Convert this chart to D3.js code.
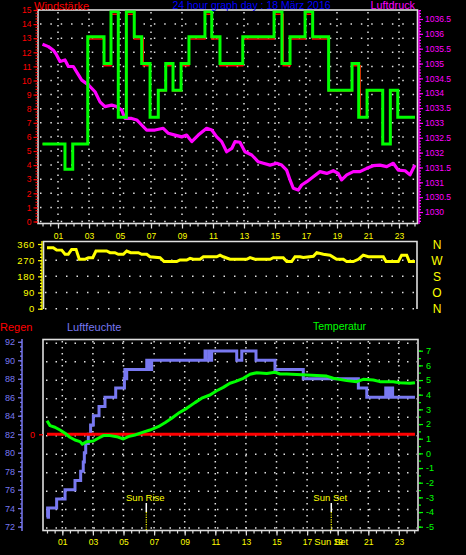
<!DOCTYPE html>
<html><head><meta charset="utf-8">
<script src="https://cdn.jsdelivr.net/npm/d3@7"></script>
<style>html,body{margin:0;padding:0;background:#000;}svg{display:block}</style>
</head><body>
<svg id="c" width="466" height="555"></svg>
<script>
// ---------------- DATA ----------------
const hourTicks = [1,3,5,7,9,11,13,15,17,19,21,23];
const hourLabels = ["01","03","05","07","09","11","13","15","17","19","21","23"];
const windTicks = [0,1,2,3,4,5,6,7,8,9,10,11,12,13,14,15];
const pressTicks = [1030,1030.5,1031,1031.5,1032,1032.5,1033,1033.5,1034,1034.5,1035,1035.5,1036,1036.5];
const dirTicks = [0,90,180,270,360];
const dirLetters = ["N","O","S","W","N"];
const humTicks = [72,74,76,78,80,82,84,86,88,90,92];
const tempTicks = [-5,-4,-3,-2,-1,0,1,2,3,4,5,6,7];
const rainTicks = [0];

// wind gust (green step)
const windHours = [0,1.45,1.95,2.92,3.97,4.42,4.89,5.41,5.92,6.4,6.94,7.47,7.95,8.42,8.94,9.45,10.48,10.92,11.45,12.92,14.94,15.45,15.97,16.94,17.43,18.46,19.97,20.4,20.94,21.95,22.44,22.92,24.03];
const windGust = [5.5,3.7,5.5,13.1,11.2,14.9,7.4,14.9,13.1,11.2,7.4,9.3,11.2,9.3,11.2,13.1,14.9,13.1,11.2,13.1,14.9,11.2,13.1,14.9,13.1,9.3,11.2,7.4,9.3,5.5,9.3,7.4,7.4];
// wind mean (red step)
const windMeanHours = [0,1.45,1.95,2.92,3.97,4.42,4.89,5.41,5.92,6.5,6.94,7.47,7.95,8.42,8.94,9.45,10.48,10.92,11.45,12.92,14.94,15.53,15.97,16.94,17.43,18.46,19.97,20.5,20.94,21.95,22.44,22.92,24.03];
const windMean = [5.5,3.7,5.5,12.95,11.05,14.7,7.4,14.7,12.95,11.05,7.4,9.25,11.05,9.25,11.05,12.95,14.7,12.95,11.05,12.95,14.7,11.05,12.95,14.7,12.95,9.25,11.05,7.4,9.25,5.5,9.25,7.4,7.4];
// pressure
const pressHours = [0,0.38,0.70,0.91,1.13,1.45,1.67,1.99,2.2,2.53,2.96,3.39,3.71,4.03,4.46,4.78,5.11,5.32,5.75,6.08,6.4,6.72,7.26,7.79,8.12,8.55,8.98,9.3,9.63,10.05,10.59,10.92,11.24,11.56,11.88,12.21,12.42,12.74,13.06,13.5,13.92,14.25,14.68,15.11,15.43,15.75,15.97,16.18,16.5,16.72,17.05,17.47,17.9,18.34,18.76,19.08,19.3,19.63,20.05,20.48,20.92,21.34,21.77,22.21,22.63,22.95,23.39,23.71,24.03];
const pressValues = [1035.65,1035.57,1035.45,1035.29,1035.07,1035.12,1034.9,1034.9,1034.72,1034.44,1034.28,1034.05,1033.71,1033.55,1033.6,1033.55,1033.43,1033.15,1033.15,1033.1,1032.93,1032.76,1032.76,1032.82,1032.65,1032.59,1032.53,1032.59,1032.37,1032.59,1032.82,1032.76,1032.53,1032.37,1032.03,1032.14,1032.37,1032.35,1032.03,1031.92,1031.69,1031.64,1031.58,1031.64,1031.58,1031.41,1031.08,1030.8,1030.74,1030.91,1031.02,1031.19,1031.36,1031.3,1031.39,1031.3,1031.08,1031.25,1031.36,1031.36,1031.47,1031.56,1031.58,1031.53,1031.64,1031.41,1031.39,1031.25,1031.58];
// wind direction
const dirHours = [0,0.41,0.63,0.96,1.18,1.39,1.61,1.9,2.11,2.48,2.7,2.99,3.2,3.9,4.12,4.44,4.66,4.99,5.21,5.47,5.97,6.19,6.52,6.73,7.39,7.65,8.48,8.69,9.13,9.35,9.56,10.0,10.22,11.09,11.31,11.52,11.96,13.05,13.27,13.59,14.58,14.79,15.44,15.67,15.99,16.21,16.54,16.75,17.41,17.63,18.06,18.5,18.93,19.37,19.59,20.02,20.35,20.67,21.0,21.98,22.16,22.96,23.18,23.51,23.68,24.05];
const dirValues = [339,339,327,326,303,303,330,330,275,275,284,284,321,321,312,312,303,303,321,312,312,303,303,289,284,262,262,271,271,280,275,275,289,289,298,289,275,275,284,275,275,284,284,262,262,289,289,285,292,312,303,298,275,275,262,262,275,298,289,289,262,262,298,298,262,262];
// humidity (step)
const humHours = [0,0.04,0.07,0.1,0.63,1.18,1.83,2.2,2.37,2.44,2.53,2.7,2.85,3.03,3.4,3.79,4.49,5.06,5.09,5.12,5.15,5.18,5.21,6.52,6.56,6.6,6.64,6.68,6.72,6.76,6.8,6.84,10.33,10.4,10.6,10.64,10.68,10.72,10.76,12.4,12.73,13.66,14.9,16.75,20.35,20.9,22.14,22.19,22.24,22.29,22.34,22.39,22.44,22.49,22.54,22.59,22.63,24.05];
const humValues = [73,74,73,74,75,76,77,78,79,80,81,82,83,84,85,86,87,88,89,88,89,88,89,90,89,90,89,90,89,90,89,90,91,90,91,90,91,90,91,90,91,90,89,88,87,86,87,86,87,86,87,86,87,86,87,86,86,86];
// temperature
const tempHours = [0,0.2,0.52,0.85,1.18,1.5,1.83,2.16,2.31,2.59,3.03,3.35,3.68,4.12,4.56,4.99,5.31,5.75,6.19,6.73,7.27,7.71,8.15,8.58,9.13,9.67,10.11,10.65,11.09,11.52,11.96,12.29,12.83,13.27,13.71,14.36,14.9,15.23,15.67,16.97,18.28,18.71,19.59,20.24,20.67,21.33,21.76,22.63,23.07,23.73,24.05];
const tempValues = [2.23,1.89,1.78,1.59,1.37,1.1,0.91,0.8,0.62,0.8,0.84,1.03,1.21,1.21,1.14,0.98,1.14,1.25,1.41,1.59,1.82,2.09,2.39,2.73,3.07,3.46,3.76,3.98,4.27,4.5,4.78,4.89,5.12,5.39,5.5,5.45,5.53,5.41,5.41,5.34,5.27,5.12,4.96,4.89,5.05,5.0,4.89,4.89,4.82,4.78,4.82];
// rain
const rainHours = [0,24.05];
const rainValues = [0,0];
// sun
const sunRise = 6.49, sunSet = 18.58;

// ---------------- SETUP ----------------
const FONT = "'Liberation Sans', Arial, sans-serif";
const svg = d3.select("#c");
svg.append("rect").attr("width",466).attr("height",555).attr("fill","#000");

const xTop = d3.scaleLinear().domain([0,24]).range([42.5,414.5]);
const xBot = d3.scaleLinear().domain([0,24]).range([47,414.2]);
const yWind = d3.scaleLinear().domain([0,15]).range([221.5,10]);
const yPress = d3.scaleLinear().domain([1030,1036.5]).range([212,19]);
const yDir = d3.scaleLinear().domain([0,360]).range([308.7,244]);
const yHum = d3.scaleLinear().domain([72,92]).range([526.6,341.8]);
const yTemp = d3.scaleLinear().domain([-5,7]).range([526.7,350.7]);
const yRain = d3.scaleLinear().domain([0,10]).range([434.3,340]);

const GRID = "#e0e0e0", FRAME = "#dedede";
const RED="#ff0000", MAG="#ff00ff", YEL="#ffff00", LAV="#7878f0", GRN="#00ff00", BLUE="#0000ff";

const defs = svg.append("defs");
function clip(id,x,y,w,h){ defs.append("clipPath").attr("id",id).append("rect").attr("x",x).attr("y",y).attr("width",w).attr("height",h); }
clip("cTop",38.5,10.5,378.5,212.5);
clip("cMid",43.5,242,373,67);
clip("cBot",43.5,340,374,190);

function line(g,x1,y1,x2,y2,color,w,dash){
  const l=g.append("line").attr("x1",x1).attr("y1",y1).attr("x2",x2).attr("y2",y2)
   .attr("stroke",color).attr("stroke-width",w);
  if(dash) l.attr("stroke-dasharray",dash);
  return l;
}
function text(x,y,s,color,size,anchor){
  return svg.append("text").attr("x",x).attr("y",y).text(s).attr("fill",color)
   .attr("font-size",size).attr("font-family",FONT).attr("text-anchor",anchor||"start");
}
function styleAxis(g,color,size){
  g.select(".domain").remove();
  g.selectAll(".tick line").attr("stroke",color).attr("stroke-width",1.2);
  g.selectAll(".tick text").attr("fill",color).attr("font-size",size).attr("font-family",FONT);
}

// ---------------- GRIDS ----------------
const grid = svg.append("g");
windTicks.filter(v=>v<15).forEach(v=>line(grid,40,yWind(v),416,yWind(v),GRID,1.5,"1.5,8.85"));
hourTicks.forEach(h=>line(grid,xTop(h),12,xTop(h),222,GRID,1.5,"1.5,5"));
dirTicks.filter(v=>v<360).forEach(v=>line(grid,45,yDir(v),416,yDir(v),GRID,1.5,"1.5,9"));
humTicks.forEach(v=>line(grid,46,yHum(v)+1.5,417,yHum(v)+1.5,GRID,1.5,"1.5,8"));
hourTicks.forEach(h=>line(grid,xBot(h),341,xBot(h),529,GRID,1.5,"1.5,4.5"));

// ---------------- FRAMES ----------------
svg.append("rect").attr("x",38).attr("y",10).attr("width",379.5).attr("height",213.5)
  .attr("fill","none").attr("stroke",FRAME).attr("stroke-width",1.6);
svg.append("path").attr("d","M43.5,309V241.5H417V309").attr("fill","none").attr("stroke",FRAME).attr("stroke-width",1.6);
svg.append("rect").attr("x",43).attr("y",339.5).attr("width",375).attr("height",191)
  .attr("fill","none").attr("stroke",FRAME).attr("stroke-width",1.6);

// ---------------- TOP PANEL DATA ----------------
const gTop = svg.append("g").attr("clip-path","url(#cTop)");
const pressLine = d3.line().x((d,i)=>xTop(pressHours[i])).y(d=>yPress(d));
gTop.append("path").attr("d",pressLine(pressValues)).attr("fill","none")
  .attr("stroke",MAG).attr("stroke-width",3.2).attr("stroke-linejoin","round");
const meanLine = d3.line().curve(d3.curveStepAfter).x((d,i)=>xTop(windMeanHours[i])).y(d=>yWind(d));
gTop.append("path").attr("d",meanLine(windMean)).attr("fill","none").attr("stroke",RED).attr("stroke-width",1.5);
const gustLine = d3.line().curve(d3.curveStepAfter).x((d,i)=>xTop(windHours[i])).y(d=>yWind(d));
gTop.append("path").attr("d",gustLine(windGust)).attr("fill","none").attr("stroke",GRN).attr("stroke-width",3);

// ---------------- MIDDLE PANEL DATA ----------------
const gMid = svg.append("g").attr("clip-path","url(#cMid)");
const dirLine = d3.line().x((d,i)=>xBot(dirHours[i])).y(d=>yDir(d));
gMid.append("path").attr("d",dirLine(dirValues)).attr("fill","none").attr("stroke",YEL).attr("stroke-width",3);

// ---------------- BOTTOM PANEL DATA ----------------
const gBot = svg.append("g").attr("clip-path","url(#cBot)");
[sunRise,sunSet].forEach(t=>{
  line(gBot,xBot(t),503,xBot(t),512,"#ffffff",1.5);
  line(gBot,xBot(t),512,xBot(t),530,YEL,1.2,"1.2,1.2");
});
const humLine = d3.line().curve(d3.curveStepAfter).x((d,i)=>xBot(humHours[i])).y(d=>yHum(d));
gBot.append("path").attr("d",humLine(humValues)).attr("fill","none").attr("stroke",LAV).attr("stroke-width",3);
const rainLine = d3.line().x((d,i)=>xBot(rainHours[i])).y(d=>yRain(d));
gBot.append("path").attr("d",rainLine(rainValues)).attr("fill","none").attr("stroke",RED).attr("stroke-width",3);
const tempLine = d3.line().x((d,i)=>xBot(tempHours[i])).y(d=>yTemp(d));
gBot.append("path").attr("d",tempLine(tempValues)).attr("fill","none").attr("stroke",GRN).attr("stroke-width",3).attr("stroke-linejoin","round");

// ---------------- AXES ----------------
let g = svg.append("g").attr("transform","translate(37.5,0)")
  .call(d3.axisLeft(yWind).tickValues(d3.range(0,15.01,0.2)).tickSize(2).tickFormat(""));
styleAxis(g,RED,8);
g = svg.append("g").attr("transform","translate(37.5,0)")
  .call(d3.axisLeft(yWind).tickValues(windTicks).tickSize(4).tickPadding(2).tickFormat(d=>String(d)));
styleAxis(g,RED,8.5);

line(svg,419,10,419,224,MAG,1.3);
g = svg.append("g").attr("transform","translate(419,0)")
  .call(d3.axisRight(yPress).tickValues(d3.range(1029.7,1036.81,0.1)).tickSize(2).tickFormat(""));
styleAxis(g,MAG,8);
g = svg.append("g").attr("transform","translate(419,0)")
  .call(d3.axisRight(yPress).tickValues(pressTicks).tickSize(4).tickPadding(2).tickFormat(d=>String(d)));
styleAxis(g,MAG,8.5);

g = svg.append("g").attr("transform","translate(0,223.5)")
  .call(d3.axisBottom(xTop).tickValues(d3.range(0,24.01,0.5)).tickSize(3).tickFormat(""));
styleAxis(g,FRAME,8);
g = svg.append("g").attr("transform","translate(0,223.5)")
  .call(d3.axisBottom(xTop).tickValues(hourTicks).tickSize(5).tickPadding(4).tickFormat((d,i)=>hourLabels[i]));
styleAxis(g,FRAME,8.5);
g.selectAll(".tick text").attr("fill",YEL);

line(svg,42,241,42,310,YEL,1.3);
g = svg.append("g").attr("transform","translate(42,0)")
  .call(d3.axisLeft(yDir).tickValues(d3.range(0,360.1,18)).tickSize(2).tickFormat(""));
styleAxis(g,YEL,8);
g = svg.append("g").attr("transform","translate(42,0)")
  .call(d3.axisLeft(yDir).tickValues(dirTicks).tickSize(4).tickPadding(3).tickFormat(d=>String(d)));
styleAxis(g,YEL,9.5);
g.selectAll(".tick text").attr("letter-spacing","0.6px");
dirTicks.forEach((v,i)=>text(437,yDir(v)+4.5,dirLetters[i],YEL,12,"middle"));

line(svg,22,339,22,531,LAV,1.5);
g = svg.append("g").attr("transform","translate(22,0)")
  .call(d3.axisLeft(yHum).tickValues(d3.range(72,92.01,0.5)).tickSize(2).tickFormat(""));
styleAxis(g,LAV,8);
g = svg.append("g").attr("transform","translate(22,0)")
  .call(d3.axisLeft(yHum).tickValues(humTicks).tickSize(4).tickPadding(3).tickFormat(d=>String(d)));
styleAxis(g,LAV,9);

g = svg.append("g").attr("transform","translate(43,0)")
  .call(d3.axisLeft(yRain).tickValues(rainTicks).tickSize(4).tickPadding(4).tickFormat(d=>String(d)));
styleAxis(g,RED,9);

g = svg.append("g").attr("transform","translate(419,0)")
  .call(d3.axisRight(yTemp).tickValues(d3.range(-5,7.01,0.5)).tickSize(2).tickFormat(""));
styleAxis(g,GRN,8);
g = svg.append("g").attr("transform","translate(419,0)")
  .call(d3.axisRight(yTemp).tickValues(tempTicks).tickSize(4).tickPadding(3).tickFormat(d=>String(d)));
styleAxis(g,GRN,9);

g = svg.append("g").attr("transform","translate(0,530.5)")
  .call(d3.axisBottom(xBot).tickValues(d3.range(0,24.01,0.5)).tickSize(3).tickFormat(""));
styleAxis(g,FRAME,8);
g = svg.append("g").attr("transform","translate(0,530.5)")
  .call(d3.axisBottom(xBot).tickValues(hourTicks).tickSize(5).tickPadding(3.5).tickFormat((d,i)=>hourLabels[i]));
styleAxis(g,FRAME,8.5);
g.selectAll(".tick text").attr("fill",YEL);
text(xBot(sunSet),545,"Sun Set",YEL,9.5,"middle");

text(xBot(sunRise)-1,501,"Sun Rise",YEL,9.5,"middle");
text(xBot(sunSet)-1,501,"Sun Set",YEL,9.5,"middle");

// ---------------- TITLES ----------------
text(34,9.5,"Windstärke",RED,11);
text(251.5,9,"24 hour graph day : 18 März 2016",BLUE,10.5,"middle");
text(415,9,"Luftdruck",MAG,10.8,"end");
text(0,331,"Regen",RED,11);
text(67,331,"Luftfeuchte",LAV,11);
text(313,330,"Temperatur",GRN,10.5);
</script>
</body></html>
